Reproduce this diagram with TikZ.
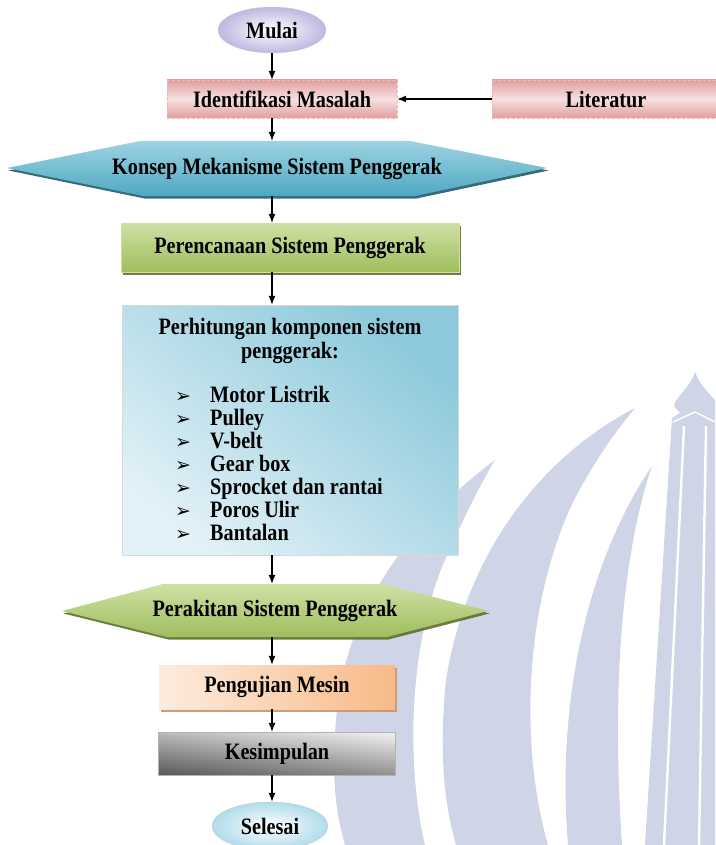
\documentclass[tikz,border=0pt]{standalone}
\usepackage{fontspec}
\setmainfont{Liberation Serif}[FakeStretch=0.86]
\newfontfamily\panahfont{DejaVu Sans}
\usetikzlibrary{positioning, calc, shapes.geometric, arrows.meta, shadows}

\definecolor{latar}{RGB}{208,212,231}
\definecolor{ungu}{RGB}{190,183,224}
\definecolor{merahA}{RGB}{225,158,158}
\definecolor{merahB}{RGB}{247,224,224}
\definecolor{biruA}{RGB}{158,211,226}
\definecolor{biruB}{RGB}{78,168,194}
\definecolor{biruC}{RGB}{32,92,108}
\definecolor{hijauA}{RGB}{208,224,165}
\definecolor{hijauB}{RGB}{158,190,92}
\definecolor{hijauC}{RGB}{92,112,42}
\definecolor{langitA}{RGB}{226,241,247}
\definecolor{langitB}{RGB}{140,201,219}
\definecolor{jinggaA}{RGB}{253,236,222}
\definecolor{jinggaB}{RGB}{247,186,136}
\definecolor{abuA}{RGB}{236,236,236}
\definecolor{abuB}{RGB}{95,95,95}
\definecolor{tosca}{RGB}{176,220,235}

\newcommand{\panah}{{\panahfont\fontsize{19}{19}\selectfont ➢}}

\begin{document}
\begin{tikzpicture}[x=1pt, y=-1pt,
		font=\bfseries\fontsize{23.5}{24}\selectfont,
		arr/.style={-{Latex[length=9pt, width=7pt]}, line width=1.1pt},
		terminal/.style={ellipse, inner sep=0pt, draw=gray!40, line width=0.4pt},
		kotak/.style={rectangle, inner sep=0pt},
		bayang/.style={drop shadow={shadow xshift=1.5pt, shadow yshift=-2.5pt, fill=#1, opacity=0.9}}]
		\useasboundingbox (0,0) rectangle (715,845);
		% watermark
		\fill[latar] (495,460) .. controls (415,520) and (352,600) .. (338,700) .. controls (330,770) and (335,810) .. (345,845) -- (425,845) .. controls (405,760) and (410,640) .. (445,560) .. controls (465,515) and (480,485) .. (495,460) -- cycle;
		\fill[latar] (635,408) .. controls (535,460) and (465,560) .. (446,680) .. controls (438,760) and (446,810) .. (456,845) -- (548,845) .. controls (518,740) and (526,600) .. (574,500) .. controls (598,455) and (617,430) .. (635,408) -- cycle;
		\fill[latar] (652,466) .. controls (588,560) and (556,700) .. (568,845) -- (622,845) .. controls (612,700) and (620,560) .. (652,466) -- cycle;
		\fill[latar] (695,372) .. controls (690,388) and (676,396) .. (674,406) -- (680,413) -- (672,418) -- (645,845) -- (715,845) -- (715,400) .. controls (708,392) and (700,385) .. (695,372) -- cycle;
		\draw[white, line width=1.5pt] (673,422) -- (695,412) -- (715,422);
		\draw[white, line width=2.5pt] (684,426) -- (664,845);
		\draw[white, line width=2.5pt] (706,426) -- (699,845);
		% shapes
		\node[terminal, minimum width=108pt, minimum height=46pt, inner color=white, outer color=ungu] (mulai) at (272,30) {Mulai};
		\node[kotak, minimum width=230pt, minimum height=38pt, draw=merahA!70, densely dashed, thin, top color=merahA, bottom color=merahA, middle color=merahB] (identifikasi) at (282,99) {Identifikasi Masalah};
		\node[kotak, minimum width=228pt, minimum height=38pt, draw=merahA!70, densely dashed, thin, top color=merahA, bottom color=merahA, middle color=merahB] (literatur) at (606,99) {Literatur};
		\path[top color=biruA, bottom color=biruB, bayang=biruC] (7,168) -- (140,141) -- (410,141) -- (547,168) -- (415,196) -- (143,196) -- cycle;
		\node[kotak, minimum width=270pt, minimum height=55pt] (konsep) at (277,168.5) {Konsep Mekanisme Sistem Penggerak};
		\node[kotak, minimum width=338pt, minimum height=49pt, top color=hijauA, bottom color=hijauB, draw=hijauA, bayang=hijauC] (perencanaan) at (290,247.5) {Perencanaan Sistem Penggerak};
		\node[kotak, minimum width=336pt, minimum height=250pt, draw=gray!30, bottom color=langitA, top color=langitB, shading angle=-40] (perhitungan) at (290,430) {};
		\node[align=center, inner sep=0pt] (judul) at (290,341) {Perhitungan komponen sistem\\penggerak:};
		\foreach \butir [count=\i] in {Motor Listrik, Pulley, V-belt, Gear box, Sprocket dan rantai, Poros Ulir, Bantalan}
			\node[anchor=base west, inner sep=0pt] (butir\i) at (175, 379+23*\i) {\makebox[35pt][l]{\panah}\butir};
		\path[top color=hijauA, bottom color=hijauB, bayang=hijauC] (62,611) -- (163,584) -- (383,584) -- (488,611) -- (387,637) -- (167,637) -- cycle;
		\node[kotak, minimum width=220pt, minimum height=53pt] (perakitan) at (275,610.5) {Perakitan Sistem Penggerak};
		\node[kotak, minimum width=236pt, minimum height=44pt, left color=jinggaA, right color=jinggaB, bayang=jinggaB!80!black] (pengujian) at (277,687) {Pengujian Mesin};
		\node[kotak, minimum width=237pt, minimum height=43pt, top color=abuA, bottom color=abuB, shading angle=-6, draw=gray!60] (kesimpulan) at (277,753.5) {Kesimpulan};
		\node[terminal, minimum width=116pt, minimum height=48pt, inner color=white, outer color=tosca] (selesai) at (270,826) {Selesai};
		% arrows
		\coordinate (poros) at (272,0);
		\draw[arr] (mulai.south) -- (identifikasi.north -| poros);
		\draw[arr] (literatur) -- (identifikasi);
		\foreach \a/\b in {identifikasi/konsep, konsep/perencanaan, perencanaan/perhitungan, perhitungan/perakitan, perakitan/pengujian, pengujian/kesimpulan, kesimpulan/selesai}
			\draw[arr] (\a.south -| poros) -- (\b.north -| poros);
	\end{tikzpicture}
\end{document}
